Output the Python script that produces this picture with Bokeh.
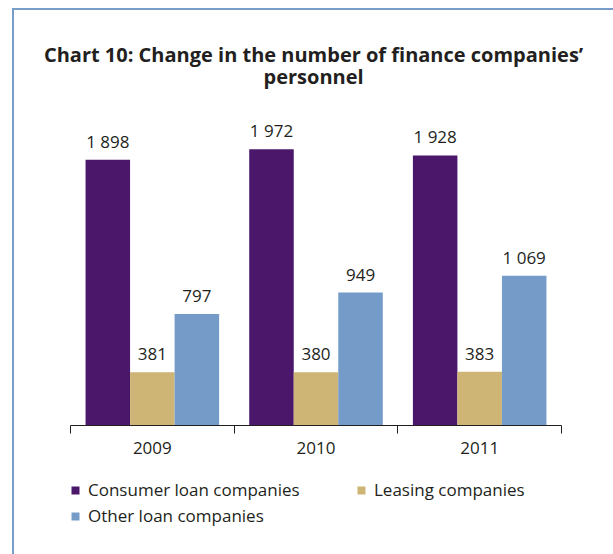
from bokeh.plotting import figure
from bokeh.models import (ColumnDataSource, FixedTicker, Legend, LegendItem,
                          LabelSet, Label, Range1d)
from bokeh.core.properties import value
from bokeh.embed import file_html
from bokeh.resources import INLINE

# ---- data ----
years = ["2009", "2010", "2011"]
consumer = [1898, 1972, 1928]
leasing = [381, 380, 383]
other = [797, 949, 1069]
series_names = ["Consumer loan companies", "Leasing companies", "Other loan companies"]
colors = ["#4b176b", "#ceb576", "#759cc9"]
title_lines = ["Chart 10: Change in the number of finance companies\u2019", "personnel"]

FONT = "Open Sans"
TXT = "#231f20"
BORDER = "#789dc9"
BAR_W = 0.272
offsets = [-BAR_W, 0.0, BAR_W]

p = figure(frame_width=599, frame_height=544, output_backend="svg",
           toolbar_location=None, title=None,
           x_range=Range1d(-0.3421, 3.3176), y_range=Range1d(-921.1, 2963.2),
           min_border_left=0, min_border_right=0, min_border_top=0,
           min_border_bottom=0)
p.styles = {"margin-left": "12px", "margin-top": "8px",
            "border-left": f"2px solid {BORDER}", "border-top": f"2px solid {BORDER}"}
p.background_fill_color = "white"
p.border_fill_color = "white"

items = []
for vals, name, col, off in zip([consumer, leasing, other], series_names, colors, offsets):
    xs = [i + 0.5 + off for i in range(len(years))]
    src = ColumnDataSource(dict(x=xs, top=vals,
                                lab=[f"{v:,}".replace(",", " ") for v in vals]))
    r = p.vbar(x="x", top="top", width=BAR_W, bottom=0, source=src,
               fill_color=col, line_color=None)
    items.append(LegendItem(label=name, renderers=[r]))
    p.add_layout(LabelSet(x="x", y="top", text="lab", source=src,
                          text_align="center", text_baseline="alphabetic",
                          y_offset=12, text_font=value(FONT),
                          text_font_size=value("17px"), text_color=TXT))

# axes
p.yaxis.visible = False
p.xgrid.visible = False
p.ygrid.visible = False
p.outline_line_color = None
xa = p.xaxis[0]
xa.fixed_location = 0
xa.bounds = (0, len(years))
xa.ticker = FixedTicker(ticks=[i + 0.5 for i in range(len(years))],
                        minor_ticks=list(range(len(years) + 1)))
xa.major_label_overrides = {i + 0.5: y for i, y in enumerate(years)}
xa.major_tick_out = 0
xa.major_tick_in = 0
xa.minor_tick_out = 8
xa.minor_tick_in = 0
xa.minor_tick_line_color = TXT
xa.axis_line_color = TXT
xa.major_label_standoff = 9
xa.major_label_text_font = FONT
xa.major_label_text_font_size = "17px"
xa.major_label_text_color = TXT

legend = Legend(items=items, orientation="horizontal", ncols=2,
                location=(56, 27), glyph_width=10, glyph_height=10,
                label_standoff=8, label_width=265, label_height=20, spacing=3,
                padding=0, margin=0, border_line_color=None,
                background_fill_alpha=0,
                label_text_font=FONT, label_text_font_size="17px",
                label_text_color=TXT)
p.add_layout(legend, "center")

# two-line title (data coordinates)
for txt, yy in zip(title_lines, [2649, 2492]):
    p.add_layout(Label(x=1.485, y=yy, text=txt, text_align="center",
                       text_baseline="alphabetic", text_font=FONT,
                       text_font_style="bold", text_font_size="20px",
                       text_color=TXT))

open("out.html", "w").write(file_html(p, INLINE))
